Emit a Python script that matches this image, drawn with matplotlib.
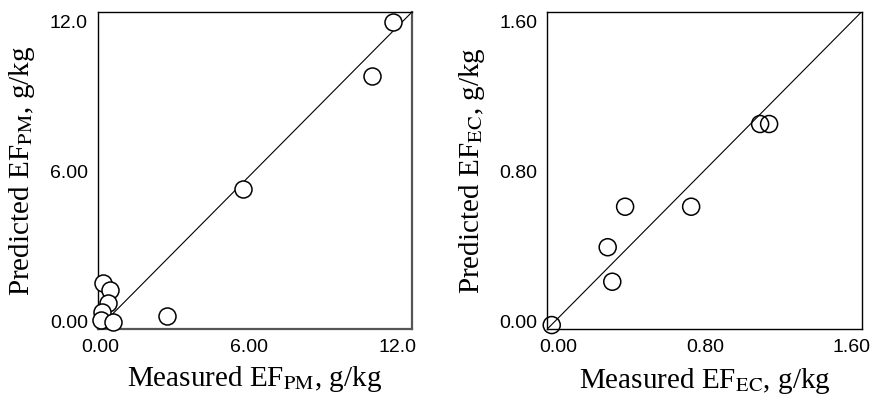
import matplotlib
matplotlib.use("Agg")
import matplotlib.pyplot as plt

plt.rcParams['mathtext.fontset'] = 'stix'

# Left panel: PM
pm_measured = [11.83, 11.0, 5.78, 2.71, 0.13, 0.40, 0.31, 0.07, 0.02, 0.50]
pm_predicted = [12.0, 9.82, 5.29, 0.19, 1.53, 1.26, 0.73, 0.37, 0.03, -0.02]
pm_ticks = [0.0, 6.0, 12.0]
pm_ticklabels = ["0.00", "6.00", "12.0"]

# Right panel: EC
ec_measured = [-0.036, 0.269, 0.294, 0.364, 0.724, 1.10, 1.149]
ec_predicted = [-0.018, 0.397, 0.213, 0.613, 0.613, 1.054, 1.054]
ec_ticks = [0.0, 0.8, 1.6]
ec_ticklabels = ["0.00", "0.80", "1.60"]

fig = plt.figure(figsize=(8.77, 3.96), dpi=100)
axL = fig.add_axes([0.1114, 0.1692, 0.3584, 0.8005])
axR = fig.add_axes([0.6241, 0.1692, 0.3585, 0.8013])

tickfont = dict(family='Liberation Sans', size=14)
labfont = dict(family='Liberation Serif', size=21)

def style(ax, xlim, ylim, ticks, labels, xlab, ylab, xpad, ypad):
    ax.set_xlim(*xlim)
    ax.set_ylim(*ylim)
    ax.set_xticks(ticks)
    ax.set_yticks(ticks)
    ax.set_xticklabels(labels, fontdict=tickfont)
    ax.set_yticklabels(labels, fontdict=tickfont)
    ax.tick_params(length=0, pad=7)
    ax.set_xlabel(xlab, fontdict=labfont, labelpad=xpad)
    ax.set_ylabel(ylab, fontdict=labfont, labelpad=ypad)
    ax.plot([0, 1], [0, 1], transform=ax.transAxes, color='black', lw=0.8, zorder=2)

axL.scatter(pm_measured, pm_predicted, s=150, facecolor='white', edgecolor='black',
            linewidth=1.1, zorder=3, clip_on=False)
axR.scatter(ec_measured, ec_predicted, s=150, facecolor='none', edgecolor='black',
            linewidth=1.1, zorder=3, clip_on=False)

style(axL, (-0.1, 12.6), (-0.32, 12.39), pm_ticks, pm_ticklabels,
      r"Measured EF$_{\mathrm{PM}}$, g/kg", r"Predicted EF$_{\mathrm{PM}}$, g/kg", 6, 9)
style(axR, (-0.06, 1.654), (-0.039, 1.653), ec_ticks, ec_ticklabels,
      r"Measured EF$_{\mathrm{EC}}$, g/kg", r"Predicted EF$_{\mathrm{EC}}$, g/kg", 7.5, 9)

for s in ['top', 'left']:
    axL.spines[s].set_linewidth(1.0)
    axL.spines[s].set_color('black')
for s in ['bottom', 'right']:
    axL.spines[s].set_linewidth(1.6)
    axL.spines[s].set_color('#555555')
for s in axR.spines.values():
    s.set_linewidth(1.0)
    s.set_color('black')

fig.savefig("out.png", dpi=100)
